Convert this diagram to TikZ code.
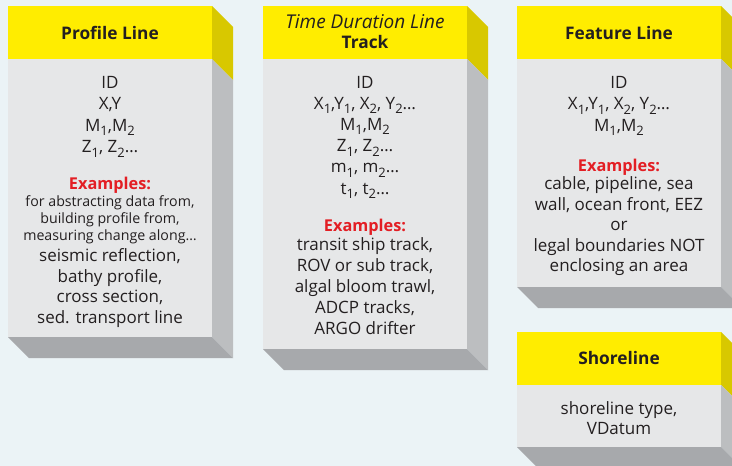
\documentclass[tikz,border=0pt]{standalone}
\usepackage{fontspec}
\setmainfont{Open Sans}
\usetikzlibrary{calc}
\definecolor{bgc}{HTML}{EBF3F6}
\definecolor{ylw}{HTML}{FFED00}
\definecolor{ylwdark}{HTML}{D8C800}
\definecolor{frontc}{HTML}{E6E7E8}
\definecolor{sidec}{HTML}{BCBEC0}
\definecolor{bottomc}{HTML}{A7A9AC}
\definecolor{txt}{HTML}{231F20}
\definecolor{redc}{HTML}{E31E24}
\newcommand\lowsub[1]{\raisebox{-0.27em}{\fontsize{13}{13}\selectfont #1}}
% left, top, right, yellow bottom, front bottom
\newcommand\cubebox[5]{%
  \fill[ylw] (#1,#2) rectangle (#3,#4);
  \fill[frontc] (#1,#4) rectangle (#3,#5);
  \fill[ylwdark] (#3,#2) -- ++(21,21) -- ($(#3,#4)+(21,21)$) -- (#3,#4) -- cycle;
  \fill[sidec] (#3,#4) -- ++(21,21) -- ($(#3,#5)+(21,21)$) -- (#3,#5) -- cycle;
  \fill[bottomc] (#1,#5) -- (#3,#5) -- ++(21,21) -- ($(#1,#5)+(21,21)$) -- cycle;
}
\tikzset{
  every node/.style={text=txt, inner sep=0pt, outer sep=0pt},
  body/.style={align=center, anchor=base, font=\fontsize{17}{21.5}\selectfont},
  small/.style={align=center, anchor=base, font=\fontsize{14.2}{17}\selectfont},
  title/.style={align=center, anchor=base, font=\fontsize{17.3}{20}\selectfont\bfseries},
  exm/.style={anchor=base, text=redc, font=\fontsize{16.3}{20}\selectfont\bfseries},
}
\begin{document}
\begin{tikzpicture}[x=1pt,y=-1pt]
\useasboundingbox (0,0) rectangle (732,466);
\clip (0,0) rectangle (732,466);
\fill[bgc] (0,0) rectangle (732,466);
\cubebox{8}{6}{212}{59}{337}
\cubebox{263}{6}{467}{59}{349}
\cubebox{517}{6}{721}{59}{287}
\cubebox{517}{332}{721}{385}{447}

% Box 1 (base anchor = baseline of the last line)
\node[title] (t1) at (110,39) {Profile Line};
\node[body] (a1) at (110,152.5) {ID\\X,Y\\M\lowsub{1},M\lowsub{2}\\Z\lowsub{1}, Z\lowsub{2}\ldots};
\node[exm] (e1) at (110,189) {Examples:};
\node[small] (s1) at (110,240.5) {for abstracting data from,\\building profile from,\\measuring change along\ldots};
\node[body, font=\fontsize{17}{20.7}\selectfont] (b1) at (110,323.5) {seismic reflection,\\bathy profile,\\cross section,\\sed. transport line};

% Box 2
\node[title, font=\fontsize{19}{20}\selectfont\itshape] (t2a) at (365,28.5) {Time Duration Line};
\node[title] (t2b) at (365,48) {Track};
\node[body, font=\fontsize{17}{21.2}\selectfont] (a2) at (365,194) {ID\\X\lowsub{1},Y\lowsub{1}, X\lowsub{2}, Y\lowsub{2}\ldots\\M\lowsub{1},M\lowsub{2}\\Z\lowsub{1}, Z\lowsub{2}\ldots\\m\lowsub{1}, m\lowsub{2}\ldots\\t\lowsub{1}, t\lowsub{2}\ldots};
\node[exm] (e2) at (365,231) {Examples:};
\node[body, font=\fontsize{17}{20.8}\selectfont] (b2) at (365,334) {transit ship track,\\ROV or sub track,\\algal bloom trawl,\\ADCP tracks,\\ARGO drifter};

% Box 3
\node[title] (t3) at (619,39) {Feature Line};
\node[body] (a3) at (619,131) {ID\\X\lowsub{1},Y\lowsub{1}, X\lowsub{2}, Y\lowsub{2}\ldots\\M\lowsub{1},M\lowsub{2}};
\node[exm] (e3) at (619,171) {Examples:};
\node[body, font=\fontsize{17}{20.5}\selectfont] (b3) at (619,271.5) {cable, pipeline, sea\\wall, ocean front, EEZ\\or\\legal boundaries NOT\\enclosing an area};

% Box 4
\node[title] (t4) at (619,364) {Shoreline};
\node[body, font=\fontsize{17}{19.5}\selectfont] (b4) at (619,434) {shoreline type,\\VDatum};
\end{tikzpicture}
\end{document}
